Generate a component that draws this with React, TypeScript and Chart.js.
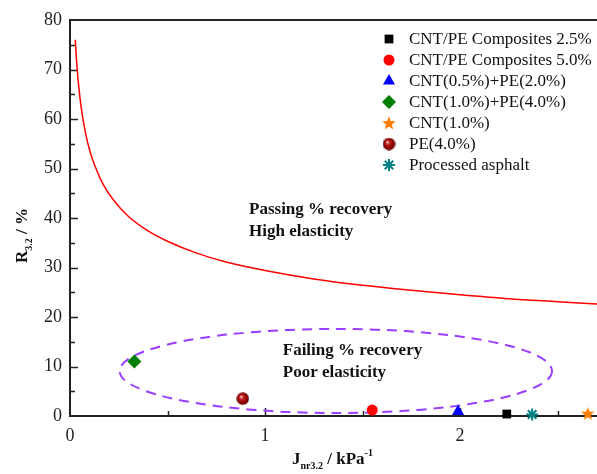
import React, { useEffect, useRef } from 'react';
import { Chart, registerables } from 'chart.js';
import { drawPoint } from 'chart.js/helpers';

Chart.register(...registerables);

// ---- data ----
const seriesNames = [
  'CNT/PE Composites 2.5%',
  'CNT/PE Composites 5.0%',
  'CNT(0.5%)+PE(2.0%)',
  'CNT(1.0%)+PE(4.0%)',
  'CNT(1.0%)',
  'PE(4.0%)',
  'Processed asphalt',
];
const seriesJ = [2.24, 1.55, 1.99, 0.33, 2.655, 0.886, 2.37];
const seriesR = [0.4, 1.2, 0.9, 11.0, 0.5, 3.5, 0.3];
const seriesColors = ['#000000', '#ff0000', '#0000ff', '#008000', '#ff8000', '#a00000', '#008080'];

const curveJ = [0.027, 0.035, 0.045, 0.06, 0.08, 0.1, 0.13, 0.17, 0.22, 0.3, 0.4, 0.5, 0.65, 0.8, 1.0, 1.25, 1.5, 1.75, 2.0, 2.25, 2.5, 2.8];
const curveR = [76.0, 71.0, 66.5, 61.6, 57.1, 53.8, 50.3, 46.8, 43.8, 40.3, 37.4, 35.3, 32.9, 31.1, 29.4, 27.7, 26.4, 25.4, 24.5, 23.7, 23.1, 22.4];

const xTickValues = [0, 1, 2];
const yTickValues = [0, 10, 20, 30, 40, 50, 60, 70, 80];
const xMinorStep = 0.5;
const yMinorStep = 5;

const passingText = ['Passing % recovery', 'High elasticity'];
const passingAt = [0.918, 40.8, 36.4]; // x, baseline y of line 1, line 2
const failingText = ['Failing % recovery', 'Poor elasticity'];
const failingAt = [1.091, 12.3, 7.9];
const ellipseCenter = [1.363, 9.1];
const ellipseRadius = [1.109, 8.5];

const SERIF = "'Liberation Serif', 'Times New Roman', serif";

function makeStar(color: string, size: number) {
  const c = document.createElement('canvas');
  c.width = size; c.height = size;
  const g = c.getContext('2d')!;
  const cx = size / 2, cy = size / 2 + 0.5, R = size / 2, r = R * 0.45;
  g.beginPath();
  for (let i = 0; i < 10; i++) {
    const a = -Math.PI / 2 + (i * Math.PI) / 5;
    const rr = i % 2 === 0 ? R : r;
    const px = cx + rr * Math.cos(a), py = cy + rr * Math.sin(a);
    if (i === 0) g.moveTo(px, py); else g.lineTo(px, py);
  }
  g.closePath();
  g.fillStyle = color;
  g.fill();
  return c;
}

function makeSphere(size: number) {
  const c = document.createElement('canvas');
  c.width = size; c.height = size;
  const g = c.getContext('2d')!;
  const r = size / 2;
  const grad = g.createRadialGradient(r * 0.75, r * 0.7, 0.5, r, r, r);
  grad.addColorStop(0, '#ffd0d0');
  grad.addColorStop(0.25, '#c02020');
  grad.addColorStop(0.7, '#900000');
  grad.addColorStop(1, '#500000');
  g.beginPath();
  g.arc(r, r, r - 0.3, 0, Math.PI * 2);
  g.fillStyle = grad;
  g.fill();
  return c;
}

function drawRich(ctx: CanvasRenderingContext2D, parts: { t: string; s: number; dy: number }[], x: number, y: number) {
  let cx = x;
  for (const p of parts) {
    ctx.font = `bold ${p.s}px ${SERIF}`;
    ctx.fillText(p.t, cx, y + p.dy);
    cx += ctx.measureText(p.t).width;
  }
}

export default function App() {
  const ref = useRef<HTMLCanvasElement>(null);

  useEffect(() => {
    const canvas = ref.current!;
    const star = makeStar('#ff8000', 14);
    const sphere = makeSphere(13);
    const styles: any[] = ['rect', 'circle', 'triangle', 'rectRot', star, sphere, 'star'];
    const radii = [6.2, 5.5, 7, 7, 7, 6.5, 6];

    const datasets: any[] = seriesNames.map((name, i) => ({
      label: name,
      data: [{ x: seriesJ[i], y: seriesR[i] }],
      pointStyle: styles[i],
      pointRadius: radii[i],
      backgroundColor: seriesColors[i],
      borderColor: seriesColors[i],
      borderWidth: i === 6 ? 2 : 0,
      showLine: false,
      clip: false,
    }));
    datasets.push({
      label: 'curve',
      data: curveJ.map((x, i) => ({ x, y: curveR[i] })),
      showLine: true,
      borderColor: '#ff0000',
      borderWidth: 1.5,
      pointRadius: 0,
      cubicInterpolationMode: 'monotone',
      fill: false,
    });

    const decor = {
      id: 'decor',
      beforeDatasetsDraw(chart: any) {
        const { ctx, chartArea: a, scales } = chart;
        const xs = scales.x, ys = scales.y;
        ctx.save();
        // frame
        ctx.strokeStyle = '#222';
        ctx.lineWidth = 2;
        ctx.beginPath();
        ctx.moveTo(a.right + 5, a.top);
        ctx.lineTo(a.left, a.top);
        ctx.lineTo(a.left, a.bottom);
        ctx.lineTo(a.right + 5, a.bottom);
        ctx.stroke();
        // ticks inward
        ctx.lineWidth = 1.5;
        ctx.beginPath();
        for (let v = yMinorStep; v < 80; v += yMinorStep) {
          const py = Math.round(ys.getPixelForValue(v)) + 0.5;
          const len = v % 10 === 0 ? 8 : 5;
          ctx.moveTo(a.left, py);
          ctx.lineTo(a.left + len, py);
        }
        for (let v = xMinorStep; v <= 2.75; v += xMinorStep) {
          const px = Math.round(xs.getPixelForValue(v)) + 0.5;
          const len = Math.abs(v - Math.round(v)) < 1e-6 ? 8 : 5;
          ctx.moveTo(px, a.bottom);
          ctx.lineTo(px, a.bottom - len);
        }
        ctx.stroke();
        // ellipse
        const ecx = xs.getPixelForValue(ellipseCenter[0]);
        const ecy = ys.getPixelForValue(ellipseCenter[1]);
        const erx = Math.abs(xs.getPixelForValue(ellipseCenter[0] + ellipseRadius[0]) - ecx);
        const ery = Math.abs(ys.getPixelForValue(ellipseCenter[1] + ellipseRadius[1]) - ecy);
        ctx.strokeStyle = '#9b3dff';
        ctx.lineWidth = 2;
        ctx.setLineDash([10, 7]);
        ctx.beginPath();
        ctx.ellipse(ecx, ecy, erx, ery, 0, 0, Math.PI * 2);
        ctx.stroke();
        ctx.setLineDash([]);
        // annotations
        ctx.fillStyle = '#111';
        ctx.font = `bold 17px ${SERIF}`;
        ctx.textBaseline = 'alphabetic';
        ctx.textAlign = 'left';
        ctx.fillText(passingText[0], xs.getPixelForValue(passingAt[0]), ys.getPixelForValue(passingAt[1]));
        ctx.fillText(passingText[1], xs.getPixelForValue(passingAt[0]), ys.getPixelForValue(passingAt[2]));
        ctx.fillText(failingText[0], xs.getPixelForValue(failingAt[0]), ys.getPixelForValue(failingAt[1]));
        ctx.fillText(failingText[1], xs.getPixelForValue(failingAt[0]), ys.getPixelForValue(failingAt[2]));
        ctx.restore();
      },
      afterDraw(chart: any) {
        const { ctx } = chart;
        ctx.save();
        // axis titles
        ctx.fillStyle = '#111';
        ctx.textBaseline = 'alphabetic';
        ctx.textAlign = 'left';
        drawRich(ctx, [
          { t: 'J', s: 17, dy: 0 },
          { t: 'nr3.2', s: 10, dy: 5 },
          { t: ' / kPa', s: 17, dy: 0 },
          { t: '-1', s: 10, dy: -8 },
        ], 292, 464);
        ctx.save();
        ctx.translate(27, 263);
        ctx.rotate(-Math.PI / 2);
        drawRich(ctx, [
          { t: 'R', s: 17, dy: 0 },
          { t: '3.2', s: 10, dy: 5 },
          { t: ' / %', s: 17, dy: 0 },
        ], 0, 0);
        ctx.restore();
        // legend
        const lx = 389, tx = 409, ly0 = 39, dyL = 21;
        ctx.font = `17px ${SERIF}`;
        ctx.textBaseline = 'middle';
        seriesNames.forEach((name, i) => {
          const y = ly0 + i * dyL;
          ctx.fillStyle = seriesColors[i];
          ctx.strokeStyle = seriesColors[i];
          ctx.lineWidth = i === 6 ? 2 : 0;
          drawPoint(ctx, { pointStyle: styles[i], radius: radii[i], rotation: 0, borderWidth: i === 6 ? 2 : 0 } as any, lx, y);
          ctx.fillStyle = '#111';
          ctx.fillText(name, tx, y + 1);
        });
        ctx.restore();
      },
    };

    const chart = new Chart(canvas, {
      type: 'scatter',
      data: { datasets },
      options: {
        animation: false,
        responsive: false,
        maintainAspectRatio: false,
        layout: { padding: { top: 20, right: 2, left: 0, bottom: 0 } },
        plugins: { legend: { display: false }, tooltip: { enabled: false } },
        scales: {
          x: {
            type: 'linear',
            min: 0,
            max: 2.8,
            grid: { display: false, drawTicks: false },
            border: { display: false },
            afterBuildTicks: (s: any) => { s.ticks = xTickValues.map((v) => ({ value: v })); },
            afterFit: (s: any) => { s.height = 58; },
            ticks: {
              padding: 9,
              color: '#222',
              font: { family: SERIF, size: 18 },
              maxRotation: 0,
              callback: (v: any) => String(v),
            },
          },
          y: {
            type: 'linear',
            min: 0,
            max: 80,
            grid: { display: false, drawTicks: false },
            border: { display: false },
            afterBuildTicks: (s: any) => { s.ticks = yTickValues.map((v) => ({ value: v })); },
            afterFit: (s: any) => { s.width = 70; },
            ticks: {
              padding: 8,
              color: '#222',
              font: { family: SERIF, size: 18 },
              callback: (v: any) => String(v),
            },
          },
        },
      },
      plugins: [decor],
    });
    return () => chart.destroy();
  }, []);

  return (
    <div style={{ position: 'fixed', left: 0, top: 0, width: 597, height: 474, overflow: 'hidden', background: '#fff' }}>
      <canvas ref={ref} width={624} height={474} style={{ display: 'block', width: 624, height: 474 }} />
    </div>
  );
}
